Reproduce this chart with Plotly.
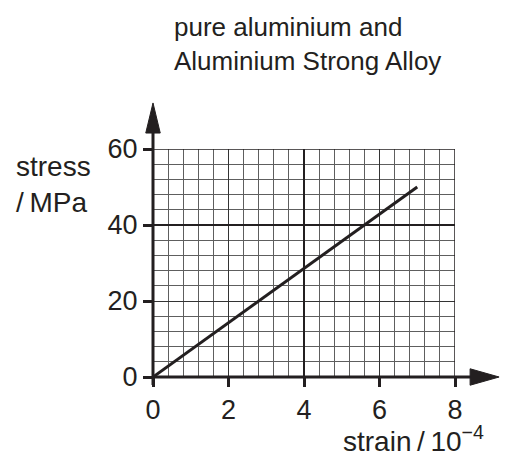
import plotly.graph_objects as go

# Data
strain = [0, 7]          # strain / 10^-4
stress = [0, 50]         # stress / MPa
x_ticks = [0, 2, 4, 6, 8]
y_ticks = [0, 20, 40, 60]
title_lines = ["pure aluminium and", "Aluminium Strong Alloy"]

INK = "#231f20"
FONT = "Liberation Sans, Arial, Helvetica, sans-serif"
FS = 26

fig = go.Figure()
fig.add_trace(go.Scatter(x=strain, y=stress, mode="lines",
                         line=dict(color=INK, width=3), showlegend=False,
                         hoverinfo="skip"))

axis_common = dict(showline=False, zeroline=False, ticks="outside",
                   ticklen=9, tickwidth=2.5, tickcolor=INK,
                   tickfont=dict(family=FONT, size=27, color=INK),
                   showgrid=True, gridcolor="#333333", gridwidth=1)

fig.update_xaxes(range=[0, 8], tickvals=x_ticks, dtick=2,
                 minor=dict(dtick=0.4, showgrid=True, gridcolor="#5e5e5e",
                            gridwidth=1.2, ticks=""),
                 **axis_common)
fig.update_yaxes(range=[0, 60], tickvals=y_ticks, dtick=20,
                 minor=dict(dtick=4, showgrid=True, gridcolor="#5e5e5e",
                            gridwidth=1.2, ticks=""),
                 **axis_common)

# emphasised grid lines and border
fig.add_vline(x=4, line=dict(color=INK, width=2))
fig.add_hline(y=40, line=dict(color=INK, width=2))
fig.add_vline(x=8, line=dict(color=INK, width=1.5))
fig.add_hline(y=60, line=dict(color=INK, width=1.5))

# axis lines with arrows (paper coords)
fig.add_shape(type="line", xref="paper", yref="paper", x0=0, x1=1.056,
              y0=0, y1=0, line=dict(color=INK, width=3))
fig.add_shape(type="line", xref="paper", yref="paper", x0=0, x1=0,
              y0=-0.035, y1=1.075, line=dict(color=INK, width=3))
fig.add_shape(type="path", xref="paper", yref="paper",
              path="M 1.05,0.036 L 1.146,0 L 1.05,-0.036 Z",
              fillcolor=INK, line=dict(color=INK, width=1))
fig.add_shape(type="path", xref="paper", yref="paper",
              path="M -0.024,1.07 L 0,1.202 L 0.024,1.07 Z",
              fillcolor=INK, line=dict(color=INK, width=1))

fig.add_annotation(xref="paper", yref="paper", x=0.063, y=1.46,
                   xanchor="left", yanchor="middle", align="left",
                   text="<br>".join(title_lines), showarrow=False,
                   font=dict(family=FONT, size=FS, color=INK))
fig.add_annotation(xref="paper", yref="paper", x=-0.46, y=0.846,
                   xanchor="left", yanchor="middle", align="left",
                   text="stress<br>/\u2009MPa", showarrow=False,
                   font=dict(family=FONT, size=28, color=INK))
fig.add_annotation(xref="paper", yref="paper", x=1.102, y=-0.27,
                   xanchor="right", yanchor="middle", align="right",
                   text="strain\u2009/\u200910<sup>\u22124</sup>", showarrow=False,
                   font=dict(family=FONT, size=28, color=INK))

fig.update_layout(width=506, height=457,
                  margin=dict(l=153, r=51, t=149, b=80),
                  paper_bgcolor="white", plot_bgcolor="white")

fig.write_html("out.html", config={"displayModeBar": False},
               post_script="document.body.style.margin='0';")
